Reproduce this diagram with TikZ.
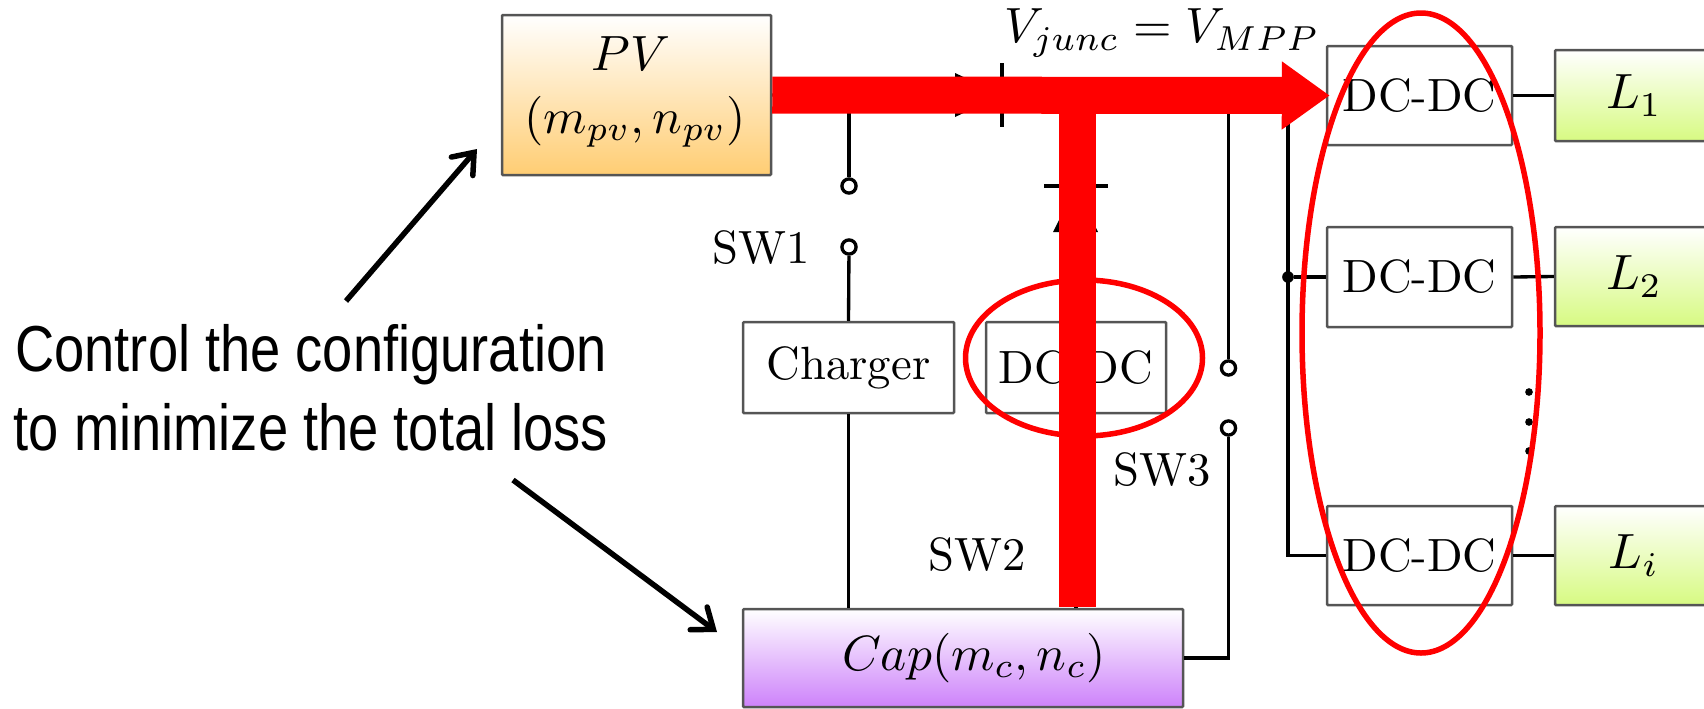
\documentclass[tikz,border=0pt]{standalone}
\usepackage{fontspec}
\usetikzlibrary{arrows.meta,shapes.geometric}
\newfontfamily\narrowsans[FakeStretch=0.835]{Liberation Sans}
\definecolor{boxedge}{RGB}{85,85,85}
\definecolor{pvbot}{RGB}{255,205,115}
\definecolor{capbot}{RGB}{205,130,250}
\definecolor{loadbot}{RGB}{215,250,130}
\newcommand{\bigtext}[1]{\scalebox{2.8}{#1}}
\newcommand{\bigmath}[1]{\scalebox{2.97}{#1}}
\tikzset{
  pxsize/.style 2 args={minimum width=#1*0.6pt,minimum height=#2*0.6pt},
  blockbox/.style={draw=boxedge,line width=1.5pt,inner sep=0pt,rounded corners=0.6pt,align=center},
  pvbox/.style={blockbox,top color=white,bottom color=pvbot},
  capbox/.style={blockbox,top color=white,bottom color=capbot},
  loadbox/.style={blockbox,top color=white,bottom color=loadbot},
  plainbox/.style={blockbox,fill=white},
  wire/.style={draw=black,line width=2pt},
  terminal/.style={circle,draw=black,line width=2pt,fill=white,inner sep=0pt,minimum size=8.5pt},
  joint/.style={circle,fill=black,inner sep=0pt,minimum size=7pt},
  vdot/.style={circle,fill=black,inner sep=0pt,minimum size=4.6pt},
  label/.style={inner sep=0pt},
  ctrl/.style={draw=black,line width=3.3pt,-{Straight Barb[length=11pt,width=17pt,line cap=round]}},
  redring/.style={ellipse,draw=red,line width=3.3pt,inner sep=0pt},
  note/.style={inner sep=0pt,align=center,font=\narrowsans\fontsize{39}{47.4}\selectfont},
}
\begin{document}
\begin{tikzpicture}[x=0.6pt,y=-0.6pt]
\useasboundingbox (0,0) rectangle (1704,708);
\clip (0,0) rectangle (1704,708);
% blocks
\node[pvbox,pxsize={269}{160}] (pv) at (636.5,95) {};
\node[label] (pvt) at (631,54) {\bigmath{$PV$}};
\node[label] (pvs) at (635,122) {\bigmath{$(m_{pv},n_{pv})$}};
\node[plainbox,pxsize={211}{91}] (chg) at (848.5,367.5) {\bigtext{Charger}};
\node[plainbox,pxsize={180}{91}] (dcm) at (1076,367.5) {\bigtext{DC-DC}};
\node[capbox,pxsize={440}{98}] (cap) at (963,658) {};
\node[label] (captext) at (974,658) {\bigmath{$Cap(m_c,n_c)$}};
\node[plainbox,pxsize={185}{99}] (dca) at (1419.5,95.5) {\bigtext{DC-DC}};
\node[plainbox,pxsize={185}{100}] (dcb) at (1419.5,277) {\bigtext{DC-DC}};
\node[plainbox,pxsize={185}{99}] (dcc) at (1419.5,555.5) {\bigtext{DC-DC}};
\node[loadbox,pxsize={158}{91}] (la) at (1634,95.5) {\bigmath{$L_1$}};
\node[loadbox,pxsize={158}{99}] (lb) at (1634,276.5) {\bigmath{$L_2$}};
\node[loadbox,pxsize={158}{99}] (lc) at (1634,555.5) {\bigmath{$L_i$}};
% switch terminals and bus points
\node[terminal] (swa) at (849,186) {};
\node[terminal] (swb) at (849,247) {};
\node[terminal] (swc) at (1228.5,368) {};
\node[terminal] (swd) at (1228.5,428) {};
\node[joint] (jn) at (1288,277) {};
\coordinate (ta) at (849,95);
\coordinate (tb) at (1228.5,95);
\coordinate (tc) at (1288,95);
\coordinate (td) at (1076,95);
% wires
\draw[wire] (pv.east) -- (dca.west);
\draw[wire] (ta) -- (swa);
\draw[wire] (swb) -- (chg.north);
\draw[wire] (chg.south) -- (chg.south |- cap.north);
\draw[wire] (td) -- (dcm.north);
\draw[wire] (dcm.south) -- (dcm.south |- cap.north);
\draw[wire] (tb) -- (swc);
\draw[wire] (swd) -- (swd |- cap.east) -- (cap.east);
\draw[wire] (tc) -- (tc |- dcc.west) -- (dcc.west);
\draw[wire] (jn) -- (dcb.west);
\draw[wire] (dca.east) -- (la.west);
\draw[wire] (dcb.east) -- (lb.west);
\draw[wire] (dcc.east) -- (lc.west);
% diodes
\fill[black] (955,73) -- (1002,95) -- (955,117) -- cycle;
\draw[wire] (1002,63) -- (1002,127);
\draw[wire] (1044,186) -- (1108,186);
\fill[black] (1076,186) -- (1053,232) -- (1098,232) -- cycle;
% dots
\node[vdot] (da) at (1529,392) {};
\node[vdot] (db) at (1529,422) {};
\node[vdot] (dc) at (1529,451) {};
% labels
\node[label] (tsa) at (761,248) {\bigtext{SW1}};
\node[label] (tsb) at (977,555) {\bigtext{SW2}};
\node[label] (tsc) at (1162,470) {\bigtext{SW3}};
\node[label] (tv) at (1162,33) {\bigmath{$V_{junc}=V_{MPP}$}};
\node[note] (nt) at (311,388) {Control the configuration\\to minimize the total loss};
% annotation arrows
\coordinate (aas) at (346,301);
\coordinate (aae) at (477,149);
\coordinate (abs) at (513,480);
\coordinate (abe) at (717,632);
\draw[ctrl] (aas) -- (aae);
\draw[ctrl] (abs) -- (abe);
% red overlays
\node[redring,pxsize={237}{156}] (ra) at (1084,358) {};
\node[redring,pxsize={238}{640}] (rb) at (1421,333) {};
\coordinate (rt) at (1077,95);
\coordinate (rbt) at (1077,607);
\draw[draw=red,line width=37*0.6pt] (rt) -- (rbt);
\draw[draw=red,line width=37*0.6pt,yshift=0.6pt,shorten >=-4*0.6pt,-{Triangle[length=28.8pt,width=39pt]}] (pv.east) -- (dca.west);
\end{tikzpicture}
\end{document}
